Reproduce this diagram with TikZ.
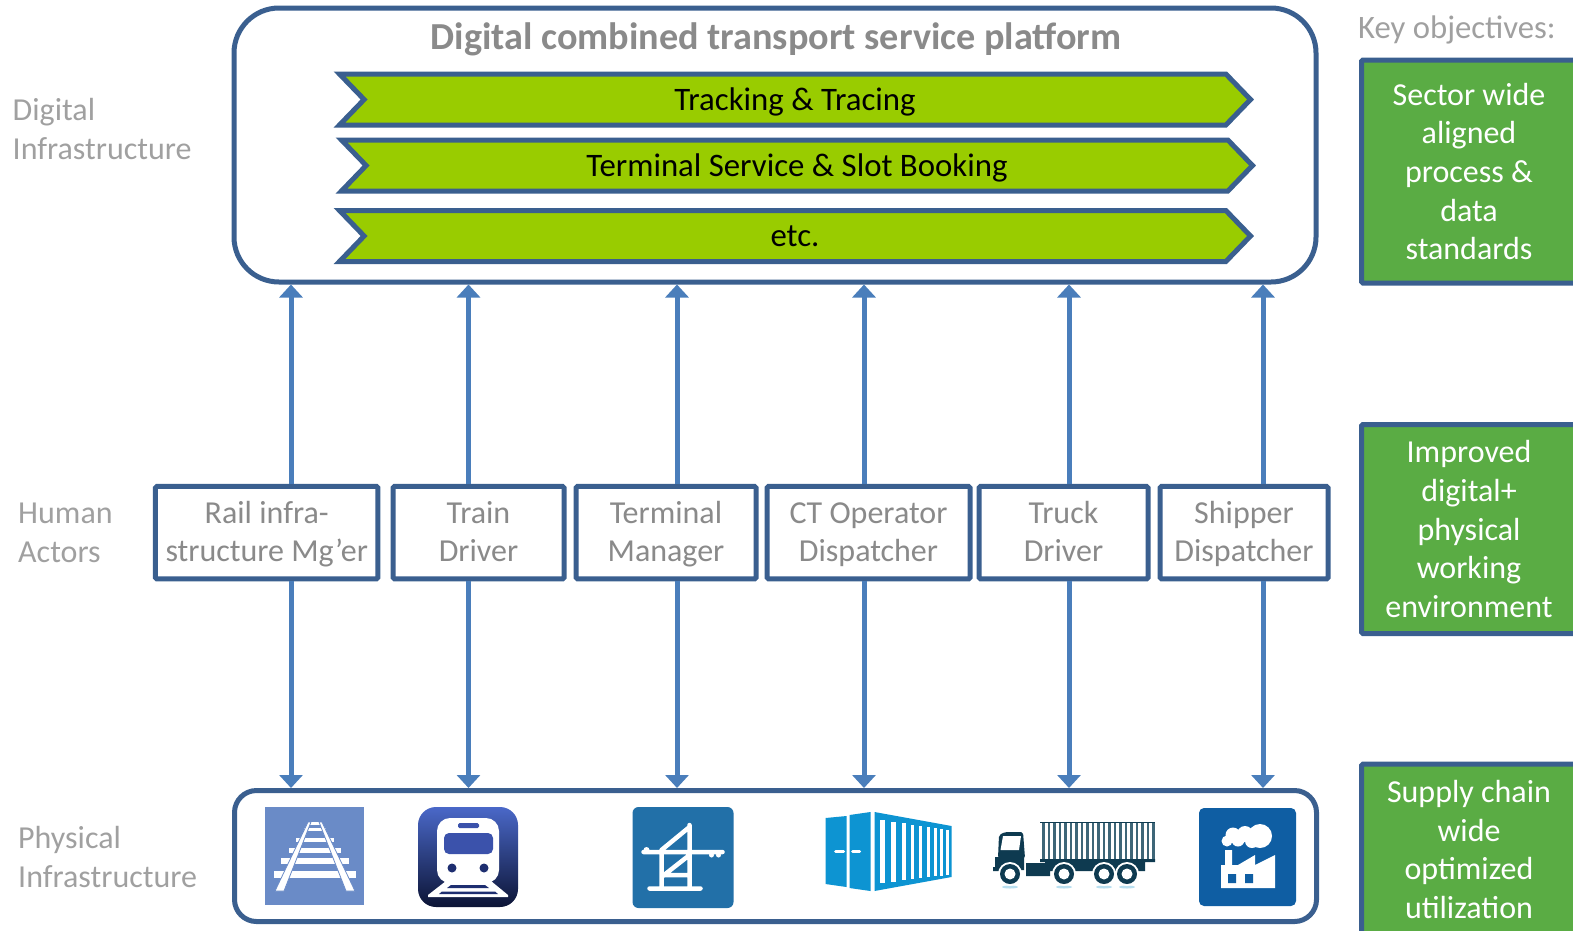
\documentclass[tikz,border=0pt]{standalone}
\usepackage{fontspec}
\setmainfont{Carlito}
\usetikzlibrary{arrows.meta,shapes.symbols}
\definecolor{frameblue}{HTML}{3A5F8F}
\definecolor{linkblue}{HTML}{4A7EBB}
\definecolor{lime}{HTML}{99CC00}
\definecolor{keygreen}{HTML}{5AAC44}
\definecolor{labelgrey}{HTML}{A0A0A0}
\definecolor{actorgrey}{HTML}{8A8A8A}
\definecolor{truckdark}{HTML}{0E3A50}
\definecolor{truckbar}{HTML}{3E6678}
\definecolor{wheelglow}{HTML}{B8DFF0}
\definecolor{trackblue}{HTML}{6A8BC7}
\definecolor{traintop}{HTML}{4A68C8}
\definecolor{trainbottom}{HTML}{0C1435}
\definecolor{trainglass}{HTML}{3B52AB}
\definecolor{traindark}{HTML}{1E2E70}
\definecolor{craneblue}{HTML}{2270A8}
\definecolor{boxblue}{HTML}{0D94D2}
\definecolor{plantblue}{HTML}{0F5EA3}
\tikzset{
	every node/.style={inner sep=0pt,font=\fontsize{32}{38.7}\selectfont},
	panel/.style={draw=frameblue,line width=5pt,fill=white,inner sep=0pt},
	chevron/.style={signal,signal to=east,signal from=west,signal pointer angle=92,draw=frameblue,line width=5pt,fill=lime,minimum width=911pt,minimum height=51pt,font=\fontsize{32.8}{38.7}\selectfont,execute at begin node=\rule{0pt}{29pt},execute at end node=\rule[-8pt]{0pt}{8pt}},
	actor/.style={draw=frameblue,line width=5pt,fill=white,rounded corners=1.5pt,minimum height=92.5pt,align=center,text=actorgrey,execute at begin node=\rule{0pt}{64pt},execute at end node=\rule[-6pt]{0pt}{6pt}},
	objective/.style={draw=frameblue,line width=5pt,fill=keygreen,rounded corners=1.5pt,minimum width=215pt,align=center,text=white},
	sidelabel/.style={anchor=west,align=left,text=labelgrey},
	link/.style={line width=5pt,draw=linkblue,-{Triangle[width=23pt,length=13pt,fill=linkblue]}},
}
\begin{document}
\begin{tikzpicture}[x=1pt,y=-1pt]
	\useasboundingbox (0,0) rectangle (1573,930);
	\node[panel,rounded corners=45pt,minimum width=1082pt,minimum height=274pt] (platform) at (775,145) {};
	\node[font=\fontsize{38.2}{44}\selectfont\bfseries,text=actorgrey] (title) at (776,39) {Digital combined transport service platform};
	\node[chevron] (tracking) at (795,99.5) {Tracking \& Tracing};
	\node[chevron] (booking) at (797,165.5) {Terminal Service \& Slot Booking};
	\node[chevron] (etc) at (795,236) {etc.};
	\node[panel,rounded corners=22pt,minimum width=1082pt,minimum height=131pt] (assets) at (775.5,856) {};
	% actors
	\node[actor,minimum width=222.5pt] (rail) at (266.7,532.7) {Rail infra-\\structure Mg’er};
	\node[actor,minimum width=171pt] (train) at (478.5,532.7) {Train\\Driver};
	\node[actor,minimum width=180pt] (terminal) at (666,532.7) {Terminal\\Manager};
	\node[actor,minimum width=203pt] (operator) at (868.5,532.7) {CT Operator\\Dispatcher};
	\node[actor,minimum width=169pt] (truck) at (1063.5,532.7) {Truck\\Driver};
	\node[actor,minimum width=168pt] (shipper) at (1244,532.7) {Shipper\\Dispatcher};
	% links
	\foreach \n/\xa in {rail/291,train/468.5,terminal/677,operator/864,truck/1069,shipper/1263}{
		\coordinate (a\n) at (\xa,400);
		\draw[link] (\n.north -| a\n) -- (platform.south -| a\n);
		\draw[link] (\n.south -| a\n) -- (assets.north -| a\n);
	}
	% left column
	\node[sidelabel] (digital) at (12.5,129) {Digital\\Infrastructure};
	\node[sidelabel] (human) at (18,533) {Human\\Actors};
	\node[sidelabel] (physical) at (18,857) {Physical\\Infrastructure};
	% right column
	\node[anchor=west,text=labelgrey,font=\fontsize{32.7}{38.7}\selectfont] (key) at (1358,30) {Key objectives:};
	\node[objective,minimum height=223pt] (sector) at (1469,171.5) {Sector wide\\aligned\\process \&\\data\\standards};
	\node[objective,minimum height=209pt] (improved) at (1469,529) {Improved\\digital+\\physical\\working\\environment};
	\node[objective,minimum height=171pt] (supply) at (1469,849.5) {Supply chain\\wide\\optimized\\utilization};
	% track icon
	\begin{scope}[shift={(265,807)}]
		\fill[trackblue] (0,0) rectangle (99,98);
		\foreach \sy/\sw/\st in {15/7/3,21/11/3,31/19/4,41/26/5,51/34/6,64/41/7}
			\fill[white] (50-\sw,\sy) rectangle (50+\sw,\sy+\st);
		\foreach \sg in {-1,1}
			\filldraw[fill=white,draw=trackblue,line width=.8pt] (50+\sg*4,15) -- (50+\sg*7,15) -- (50+\sg*40,84) -- (50+\sg*31,84) -- cycle;
	\end{scope}
	% train icon
	\begin{scope}[shift={(418,807)}]
		\shade[top color=traintop,bottom color=trainbottom,rounded corners=18pt] (0,0) rectangle (100,100);
		\fill[white,rounded corners=13pt] (19,11) rectangle (81,76);
		\fill[trainglass,rounded corners=5pt] (26,26) rectangle (75,47);
		\fill[trainglass,rounded corners=1.5pt] (40,16) rectangle (61,21);
		\fill[traindark] (34,61) circle (4.5) (66,61) circle (4.5);
		\fill[white] (28,74) -- (73,74) -- (90,88) -- (90,90) -- (10,90) -- (10,88) -- cycle;
		\fill[traindark] (33,78) -- (67,78) -- (71,81) -- (29,81) -- cycle (24,84.5) -- (77,84.5) -- (80,87) -- (21,87) -- cycle;
	\end{scope}
	% crane icon
	\begin{scope}[shift={(632.5,807)}]
		\fill[craneblue,rounded corners=6pt] (0,0) rectangle (101,101);
		\draw[white,line width=4.5pt,line cap=round] (57,18) -- (57,81) (29,45) -- (29,81) (11,45) -- (90,45) (17,81.5) -- (68,81.5) (29,43) -- (57,20) (29,70) -- (57,48) (29,68) -- (57,68);
		\fill[white] (14,43) circle (3) (79,48) circle (2.5) (86,48) circle (2.5);
	\end{scope}
	% container icon
	\begin{scope}[shift={(825.5,812)}]
		\fill[boxblue] (0,6) -- (21,4) -- (21,75) -- (0,72) -- cycle (24,3) -- (45,0) -- (45,79) -- (24,76) -- cycle (49,0) -- (126,14) -- (126,65) -- (49,79) -- cycle;
		\foreach \cx/\cw in {57/5,68/4.5,78/4,87/3.8,95/3.5,103/3,110/3,116/2.6,122/2.2}
			\fill[white] (\cx-\cw/2,{8+(\cx-57)*10/65}) rectangle (\cx+\cw/2,{71-(\cx-57)*8/65});
		\draw[white,line width=3pt,line cap=round] (10,39) -- (18,39) (27,39) -- (34,39);
	\end{scope}
	% truck icon
	\begin{scope}[shift={(993,822)}]
		\foreach \tx in {0,...,20}
			\fill[truckbar] (49+\tx*5.5,1) rectangle (51.5+\tx*5.5,38);
		\draw[truckdark,line width=1pt] (47,.5) -- (162,.5);
		\fill[truckdark] (47,37) rectangle (162,40) (52,40) rectangle (152,49) (33,41) rectangle (57,54) (2,35) rectangle (31,48) (0,45) rectangle (6,49);
		\fill[truckdark,rounded corners=2pt] (5,36) -- (6,13) -- (12,10) -- (30,10) -- (32,36) -- cycle;
		\fill[white] (7.5,28) -- (10,14) -- (28,14) -- (26,28) -- cycle;
		\foreach \wx in {17,71,111,134}{
			\fill[wheelglow] (\wx,65) ellipse (8 and 1.5);
			\fill[white] (\wx,52) circle (12);
			\fill[truckdark] (\wx,52) circle (10);
			\fill[white] (\wx,52) circle (5.5);
		}
	\end{scope}
	% factory icon
	\begin{scope}[shift={(1199,808)}]
		\fill[plantblue,rounded corners=5pt] (0,0) rectangle (97,98);
		\fill[white] (22,80) -- (22,57) -- (26,57) -- (26,42) -- (33,42) -- (33,57) -- (39,57) -- (56,47) -- (56,57) -- (76,47) -- (76,80) -- cycle;
		\fill[plantblue] (29,66) rectangle (37,75) (46,66) rectangle (54,75);
		\fill[white] (61,28) circle (12) (46,26) circle (8) (34,27) circle (7.5) (28,33) circle (5.5) (39,32) circle (6.5) (53,33) circle (7);
	\end{scope}
\end{tikzpicture}
\end{document}
